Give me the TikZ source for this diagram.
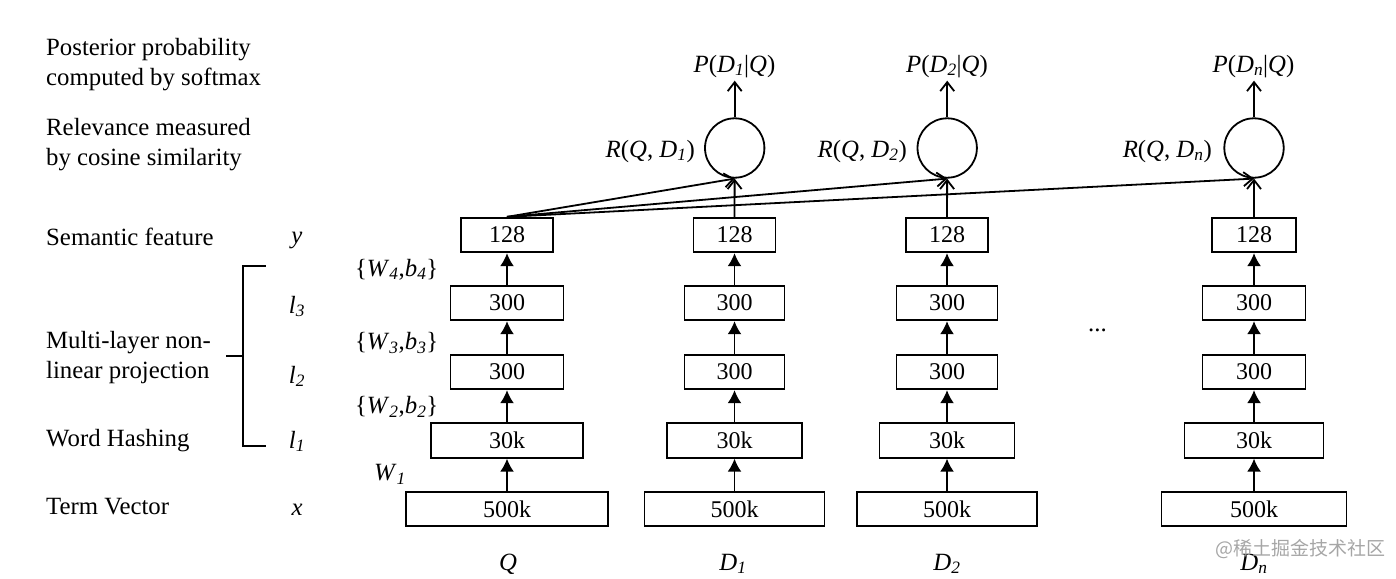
\documentclass[tikz,border=0pt]{standalone}
\usepackage{fontspec}
\setmainfont{Liberation Serif}
\newfontfamily\cjkfont{Noto Sans CJK SC}
\usetikzlibrary{arrows.meta}
\newcommand\lsub[1]{\textsubscript{#1}}
\newcommand\wb[1]{\{\textit{W}\lsub{\textit{#1}},\textit{b}\lsub{\textit{#1}}\}}
\newcommand\dcol[6]{%
  \node[nbox, minimum width=#6pt] (#1a) at (#2,509) {500k};
  \node[nbox, minimum width=#5pt] (#1b) at (#2,440.5) {30k};
  \node[nbox, minimum width=#4pt] (#1c) at (#2,372) {300};
  \node[nbox, minimum width=#4pt] (#1d) at (#2,303) {300};
  \node[nbox, minimum width=#3pt] (#1e) at (#2,235) {128};
  \draw[fa] (#1a) -- (#1b);
  \draw[fa] (#1b) -- (#1c);
  \draw[fa] (#1c) -- (#1d);
  \draw[fa] (#1d) -- (#1e);
}
\begin{document}
\begin{tikzpicture}[x=1pt,y=-1pt,
  nbox/.style={draw, line width=1.8pt, minimum height=34.5pt, inner sep=0pt, font=\fontsize{24}{28}\selectfont},
  circ/.style={draw, circle, line width=1.8pt, minimum size=59.4pt, inner sep=0pt},
  lbl/.style={inner sep=0pt, font=\fontsize{24.8}{30}\selectfont},
  txt/.style={lbl, anchor=base west, align=left},
  fa/.style={-{Latex[length=13pt,width=14pt]}, line width=1.8pt},
  oa/.style={-{Straight Barb[length=9pt,width=14pt]}, line width=1.8pt},
  ln/.style={line width=1.8pt}]
\useasboundingbox (0,0) rectangle (1396,578);

% left descriptions (base = baseline of last line)
\node[txt] (t1) at (46,85) {Posterior probability\\computed by softmax};
\node[txt] (t2) at (46,165) {Relevance measured\\by cosine similarity};
\node[txt] (t3) at (46,245) {Semantic feature};
\node[txt] (t4) at (46,378.3) {Multi-layer non-\\linear projection};
\node[txt] (t5) at (46,446.7) {Word Hashing};
\node[txt] (t6) at (46,514) {Term Vector};

% variables
\node[lbl, anchor=base] (vy) at (297,243) {\textit{y}};
\node[lbl, anchor=base] (vl3) at (297,313) {\textit{l}\lsub{\textit{3}}};
\node[lbl, anchor=base] (vl2) at (297,383) {\textit{l}\lsub{\textit{2}}};
\node[lbl, anchor=base] (vl1) at (297,448) {\textit{l}\lsub{\textit{1}}};
\node[lbl, anchor=base] (vx) at (297,515) {\textit{x}};

% bracket
\coordinate (bt) at (265.7,265.7);
\coordinate (bb) at (265.7,446);
\coordinate (bm) at (226,355.7);
\draw[ln] (bt) -- (242.7,265.7) -- (242.7,446) -- (bb);
\draw[ln] (bm) -- (242.7,355.7);

% weights
\node[lbl, anchor=base] (w4) at (396.7,276) {\wb{4}};
\node[lbl, anchor=base] (w3) at (396.7,349.3) {\wb{3}};
\node[lbl, anchor=base] (w2) at (396.7,413.3) {\wb{2}};
\node[lbl, anchor=base] (w1) at (390,480.7) {\textit{W}\lsub{\textit{1}}};

% columns
\dcol{Q}{507}{92}{113}{152}{202}
\dcol{A}{734.5}{82}{100}{135}{180}
\dcol{B}{947}{82}{101}{135}{180}
\dcol{N}{1254}{84}{103}{139}{185}

\node[lbl, anchor=base] (dots) at (1097.5,331) {...};

% bottom labels
\node[lbl, anchor=base] (lq) at (508,570) {\textit{Q}};
\node[lbl, anchor=base] (la) at (733,570) {\textit{D}\lsub{\textit{1}}};
\node[lbl, anchor=base] (lb) at (947,570) {\textit{D}\lsub{\textit{2}}};
\node[lbl, anchor=base] (ln) at (1254,570) {\textit{D}\lsub{\textit{n}}};

% circles
\node[circ] (cA) at (734.7,148) {};
\node[circ] (cB) at (947.2,148) {};
\node[circ] (cN) at (1254,148) {};

\draw[oa] (Ae) -- (cA);
\draw[oa] (Be) -- (cB);
\draw[oa] (Ne) -- (cN);
\draw[oa] (Qe.north) -- (cA.south);
\draw[oa] (Qe.north) -- (cB.south);
\draw[oa] (Qe.north) -- (cN.south);

\coordinate (pA) at (734.7,80.7);
\coordinate (pB) at (947.2,80.7);
\coordinate (pN) at (1254,80.7);
\draw[oa] (cA) -- (pA);
\draw[oa] (cB) -- (pB);
\draw[oa] (cN) -- (pN);

\node[lbl, anchor=base] (PA) at (734.5,72) {\textit{P}(\textit{D}\lsub{\textit{1}}|\textit{Q})};
\node[lbl, anchor=base] (PB) at (947,72) {\textit{P}(\textit{D}\lsub{\textit{2}}|\textit{Q})};
\node[lbl, anchor=base] (PN) at (1253.5,72) {\textit{P}(\textit{D}\lsub{\textit{n}}|\textit{Q})};

\node[lbl, anchor=base east] (RA) at (695,157) {\textit{R}(\textit{Q}, \textit{D}\lsub{\textit{1}})};
\node[lbl, anchor=base east] (RB) at (907,157) {\textit{R}(\textit{Q}, \textit{D}\lsub{\textit{2}})};
\node[lbl, anchor=base east] (RN) at (1212,157) {\textit{R}(\textit{Q}, \textit{D}\lsub{\textit{n}})};

% watermark
\node[inner sep=0pt, text=black!35, font=\cjkfont\fontsize{19}{22}\selectfont] (wm) at (1300,549) {@稀土掘金技术社区};
\end{tikzpicture}
\end{document}
